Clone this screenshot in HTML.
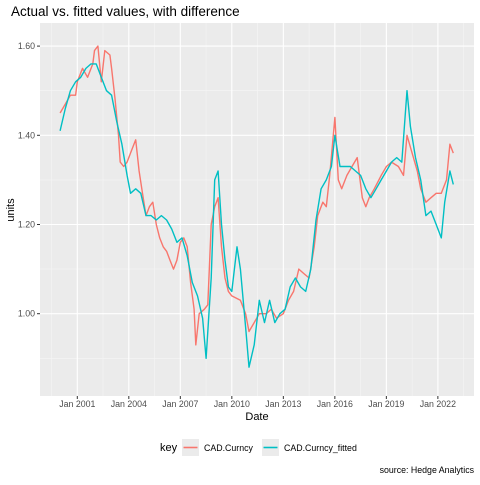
<!DOCTYPE html>
<html><head><meta charset="utf-8"><style>
body{margin:0;background:#fff;}
svg text{font-family:"Liberation Sans",Arial,sans-serif;}
</style></head><body>
<svg id="chart" width="480" height="480" xmlns="http://www.w3.org/2000/svg">
<text x="11" y="16" font-size="13.5" fill="#000">Actual vs. fitted values, with difference</text>
<rect x="40" y="23" width="434" height="373" fill="#EBEBEB"/>
<g id="grid"></g>
<g id="series"></g>
<g id="axes"></g>
<text x="257" y="420" font-size="11" text-anchor="middle" fill="#000">Date</text>
<text transform="translate(14,210) rotate(-90)" font-size="11" text-anchor="middle" fill="#000">units</text>
<g>
<text x="160" y="451" font-size="11" fill="#000">key</text>
<rect x="182" y="439" width="17" height="17" fill="#EBEBEB"/>
<line x1="183.5" y1="447.5" x2="197.5" y2="447.5" stroke="#F8766D" stroke-width="1.6"/>
<text x="204" y="451" font-size="8.8" fill="#000">CAD.Curncy</text>
<rect x="262" y="439" width="17" height="17" fill="#EBEBEB"/>
<line x1="263.5" y1="447.5" x2="277.5" y2="447.5" stroke="#00BFC4" stroke-width="1.6"/>
<text x="284" y="451" font-size="8.8" fill="#000">CAD.Curncy_fitted</text>
</g>
<text x="474" y="473" font-size="8.8" text-anchor="end" fill="#000">source: Hedge Analytics</text>
</svg>
<script>
const yTicks=[1.0,1.2,1.4,1.6];
const yTickLabels=["1.00","1.20","1.40","1.60"];
const xTicks=[2001,2004,2007,2010,2013,2016,2019,2022];
const xTickLabels=["Jan 2001","Jan 2004","Jan 2007","Jan 2010","Jan 2013","Jan 2016","Jan 2019","Jan 2022"];
const actualDates=[2000.0,2000.3,2000.6,2000.9,2001.0,2001.3,2001.6,2001.9,2002.0,2002.2,2002.4,2002.6,2002.9,2003.0,2003.2,2003.4,2003.5,2003.7,2003.9,2004.1,2004.4,2004.6,2004.8,2005.0,2005.2,2005.4,2005.6,2005.8,2006.0,2006.2,2006.4,2006.6,2006.8,2007.0,2007.2,2007.4,2007.6,2007.8,2007.9,2008.1,2008.4,2008.6,2008.8,2009.0,2009.2,2009.4,2009.6,2009.8,2010.0,2010.5,2010.8,2011.0,2011.3,2011.6,2012.0,2012.3,2012.6,2013.0,2013.3,2013.6,2013.9,2014.2,2014.5,2014.8,2015.0,2015.3,2015.5,2015.7,2016.0,2016.2,2016.4,2016.7,2017.0,2017.3,2017.6,2017.8,2018.0,2018.3,2018.7,2019.0,2019.3,2019.7,2020.0,2020.2,2020.5,2020.8,2021.0,2021.3,2021.6,2021.9,2022.2,2022.5,2022.7,2022.9];
const actualValues=[1.45,1.47,1.49,1.49,1.52,1.55,1.53,1.56,1.59,1.60,1.52,1.59,1.58,1.55,1.48,1.40,1.34,1.33,1.34,1.36,1.39,1.32,1.27,1.22,1.24,1.25,1.20,1.17,1.15,1.14,1.12,1.10,1.12,1.16,1.17,1.15,1.07,1.01,0.93,1.00,1.01,1.02,1.20,1.24,1.26,1.15,1.08,1.05,1.04,1.03,1.00,0.96,0.98,1.00,1.00,1.01,0.99,1.00,1.03,1.05,1.10,1.09,1.08,1.15,1.22,1.25,1.24,1.31,1.44,1.30,1.28,1.31,1.33,1.35,1.26,1.24,1.26,1.28,1.31,1.33,1.34,1.33,1.31,1.40,1.36,1.32,1.28,1.25,1.26,1.27,1.27,1.30,1.38,1.36];
const fittedDates=[2000.0,2000.3,2000.6,2000.9,2001.2,2001.5,2001.8,2002.1,2002.4,2002.7,2003.0,2003.3,2003.6,2003.9,2004.1,2004.4,2004.7,2005.0,2005.3,2005.6,2005.9,2006.2,2006.5,2006.8,2007.1,2007.4,2007.7,2008.0,2008.3,2008.5,2008.8,2009.0,2009.2,2009.4,2009.6,2009.8,2010.0,2010.3,2010.5,2010.8,2011.0,2011.3,2011.6,2011.9,2012.2,2012.5,2012.8,2013.1,2013.4,2013.7,2014.0,2014.3,2014.6,2014.9,2015.2,2015.5,2015.8,2016.0,2016.3,2016.6,2016.9,2017.2,2017.5,2017.8,2018.1,2018.4,2018.7,2019.0,2019.3,2019.6,2019.9,2020.2,2020.4,2020.7,2021.0,2021.3,2021.6,2021.9,2022.2,2022.4,2022.7,2022.9];
const fittedValues=[1.41,1.46,1.50,1.52,1.53,1.55,1.56,1.56,1.53,1.50,1.49,1.43,1.38,1.31,1.27,1.28,1.27,1.22,1.22,1.21,1.22,1.21,1.19,1.16,1.17,1.13,1.07,1.04,0.99,0.90,1.08,1.30,1.32,1.20,1.12,1.06,1.05,1.15,1.10,0.97,0.88,0.93,1.03,0.98,1.03,0.98,1.00,1.01,1.06,1.08,1.06,1.05,1.10,1.21,1.28,1.30,1.33,1.40,1.33,1.33,1.33,1.32,1.31,1.28,1.26,1.28,1.30,1.32,1.34,1.35,1.34,1.50,1.42,1.35,1.30,1.22,1.23,1.20,1.17,1.25,1.32,1.29];

const NS="http://www.w3.org/2000/svg";
const X0=40,X1=474,Y0=23,Y1=396;
function xs(t){return 77.3+(t-2001)*17.17;}
function ys(v){return 313.7-(v-1)*446;}
function mk(tag,attrs,parent){const e=document.createElementNS(NS,tag);for(const k in attrs)e.setAttribute(k,attrs[k]);parent.appendChild(e);return e;}
const grid=document.getElementById('grid'),axes=document.getElementById('axes'),series=document.getElementById('series');
for(let v=0.9;v<1.65;v+=0.2){const l=mk('line',{x1:X0,x2:X1,y1:ys(v),y2:ys(v),stroke:'#F5F5F5','stroke-width':0.6},grid);

}
for(let t=1999.5;t<2024;t+=3){const l=mk('line',{x1:xs(t),x2:xs(t),y1:Y0,y2:Y1,stroke:'#F5F5F5','stroke-width':0.6},grid);

}
yTicks.forEach((v,i)=>{const y=ys(v);
const l=mk('line',{x1:X0,x2:X1,y1:y,y2:y,stroke:'#fff','stroke-width':1.1},grid);


mk('line',{x1:X0-3,x2:X0,y1:y,y2:y,stroke:'#333','stroke-width':1},axes);
const t=mk('text',{x:X0-5,y:y+3,'font-size':8.8,'text-anchor':'end',fill:'#4D4D4D'},axes);t.textContent=yTickLabels[i];

});
xTicks.forEach((v,i)=>{const x=xs(v);
const l=mk('line',{x1:x,x2:x,y1:Y0,y2:Y1,stroke:'#fff','stroke-width':1.1},grid);


mk('line',{x1:x,x2:x,y1:Y1,y2:Y1+3,stroke:'#333','stroke-width':1},axes);
const t=mk('text',{x:x,y:Y1+11,'font-size':8.8,'text-anchor':'middle',fill:'#4D4D4D'},axes);t.textContent=xTickLabels[i];

});
function line(d,v,c,name){const p=mk('polyline',{points:d.map((t,i)=>xs(t).toFixed(1)+','+ys(v[i]).toFixed(1)).join(' '),fill:'none',stroke:c,'stroke-width':1.4,'stroke-linejoin':'round'},series);

}
line(actualDates,actualValues,'#F8766D','series-actual-line');
line(fittedDates,fittedValues,'#00BFC4','series-fitted-line');
</script>
</body></html>
